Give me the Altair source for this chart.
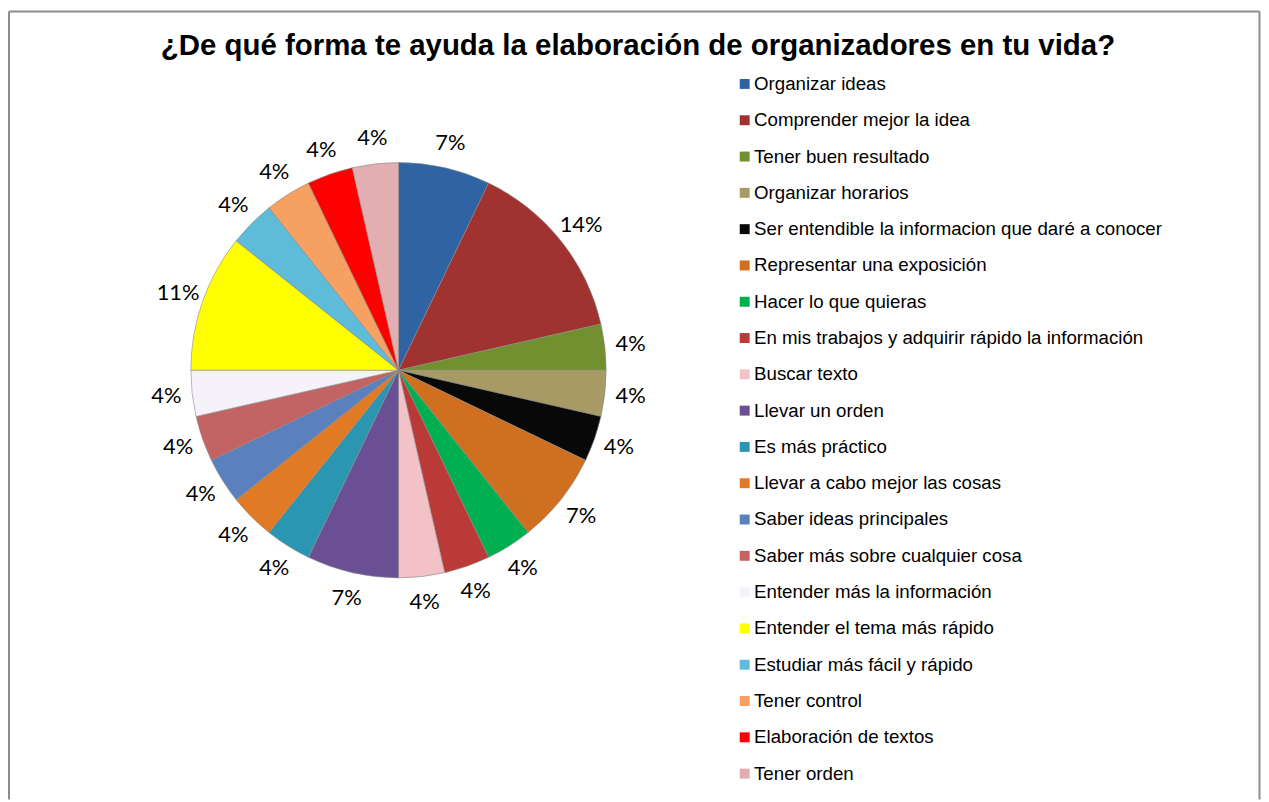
import altair as alt
import pandas as pd

title_text = "¿De qué forma te ayuda la elaboración de organizadores en tu vida?"

categories = [
    "Organizar ideas",
    "Comprender mejor la idea",
    "Tener buen resultado",
    "Organizar horarios",
    "Ser entendible la informacion que daré a conocer",
    "Representar una exposición",
    "Hacer lo que quieras",
    "En mis trabajos y adquirir rápido la información",
    "Buscar texto",
    "Llevar un orden",
    "Es más práctico",
    "Llevar a cabo mejor las cosas",
    "Saber ideas principales",
    "Saber más sobre cualquier cosa",
    "Entender más la información",
    "Entender el tema más rápido",
    "Estudiar más fácil y rápido",
    "Tener control",
    "Elaboración de textos",
    "Tener orden",
]
counts = [2, 4, 1, 1, 1, 2, 1, 1, 1, 2, 1, 1, 1, 1, 1, 3, 1, 1, 1, 1]
colors = [
    "#2F63A3", "#A0322F", "#72902F", "#A89A64", "#080808",
    "#D06F20", "#00B050", "#BA3A38", "#F2C2C6", "#6B4F95",
    "#2A96B2", "#E07A25", "#5A80BE", "#C36363", "#F5F3F9",
    "#FFFF00", "#5EBCD8", "#F6A062", "#FF0000", "#E2AEB2",
]

total = sum(counts)
df = pd.DataFrame({
    "cat": categories,
    "count": counts,
    "idx": list(range(len(categories))),
    "label": [f"{round(c / total * 100)}%" for c in counts],
})

CX, CY = 393, 362

base = alt.Chart(df).encode(
    theta=alt.Theta("count:Q", stack=True),
    order=alt.Order("idx:Q"),
)

arcs = base.mark_arc(outerRadius=209, stroke="#8a8a8a", strokeWidth=0.6).encode(
    color=alt.Color(
        "cat:N",
        scale=alt.Scale(domain=categories, range=colors),
        legend=alt.Legend(
            title=None,
            orient="none",
            legendX=732,
            legendY=64.5,
            symbolType="square",
            symbolSize=100,
            symbolStrokeWidth=0,
            labelFont="Liberation Sans",
            labelFontSize=18.8,
            labelColor="#000000",
            labelOffset=0,
            rowPadding=16.53,
            padding=0,
            labelLimit=600,
        ),
    ),
    x=alt.value(CX),
    y=alt.value(CY),
)

labels = base.mark_text(radius=235, font="Lato", fontSize=22, color="#000000").encode(
    text="label:N",
    x=alt.value(CX),
    y=alt.value(CY),
)

title = alt.Chart(pd.DataFrame({"t": [title_text]})).mark_text(
    font="Liberation Sans", fontSize=29.6, fontWeight="bold", color="#000000",
    align="center", baseline="alphabetic",
).encode(text="t:N", x=alt.value(634), y=alt.value(45))

border_color = "#8c8c8c"
left = alt.Chart(pd.DataFrame({"a": [0]})).mark_rule(color=border_color, strokeWidth=2).encode(
    x=alt.value(1), y=alt.value(1), y2=alt.value(794))
right = alt.Chart(pd.DataFrame({"a": [0]})).mark_rule(color=border_color, strokeWidth=2).encode(
    x=alt.value(1259.5), y=alt.value(1), y2=alt.value(794))
top = alt.Chart(pd.DataFrame({"a": [0]})).mark_rule(color=border_color, strokeWidth=2).encode(
    x=alt.value(1), x2=alt.value(1259.5), y=alt.value(1))

chart = alt.layer(arcs, labels, title, left, right, top).properties(
    width=1261,
    height=794,
    autosize=alt.AutoSizeParams(type="none"),
    padding=0,
    background="white",
).configure_view(stroke=None)

chart.save("out.html", embed_options={"renderer": "svg", "actions": False})
